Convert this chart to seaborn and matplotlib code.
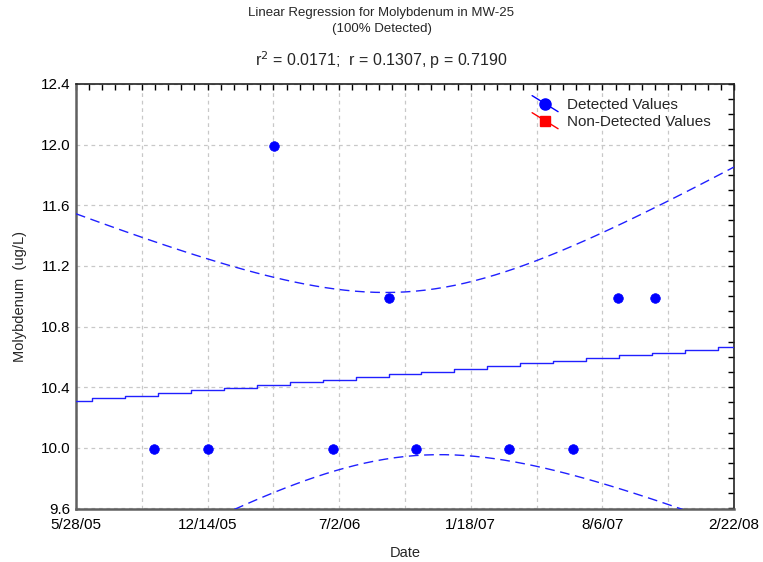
import numpy as np
import pandas as pd
import matplotlib
matplotlib.use("Agg")
import matplotlib.pyplot as plt
import matplotlib.dates as mdates
from matplotlib.ticker import MultipleLocator, FuncFormatter, FixedLocator
from matplotlib.legend_handler import HandlerLine2D
from matplotlib.lines import Line2D
import seaborn as sns

# ---- data ----
sample_dates = ["2005-09-24", "2005-12-14", "2006-03-25", "2006-06-23", "2006-09-16",
                "2006-10-26", "2007-03-17", "2007-06-22", "2007-08-29", "2007-10-25"]
molybdenum = [9.99, 9.99, 11.99, 9.99, 10.99, 9.99, 9.99, 9.99, 10.99, 10.99]
tick_dates = ["2005-05-28", "2005-12-14", "2006-07-02", "2007-01-18", "2007-08-06", "2008-02-22"]
title_lines = ["Linear Regression for Molybdenum in MW-25", "(100% Detected)"]
stats_text = r"r$^2$ = 0.0171;  r = 0.1307, p = 0.7190"
legend_labels = ["Detected Values", "Non-Detected Values"]
t_crit = 2.306  # t(0.975, df=8)

sns.set_theme(style="white")
plt.rcParams["font.family"] = ["Liberation Sans", "DejaVu Sans"]

df = pd.DataFrame({"date": pd.to_datetime(sample_dates), "value": molybdenum})
start = pd.Timestamp(tick_dates[0])
end = pd.Timestamp(tick_dates[-1])
df["days"] = (df["date"] - start).dt.days.astype(float)

# linear regression and 95% confidence band for the mean
x = df["days"].values
y = df["value"].values
n = len(x)
xm, ym = x.mean(), y.mean()
sxx = ((x - xm) ** 2).sum()
slope = ((x - xm) * (y - ym)).sum() / sxx
intercept = ym - slope * xm
resid = y - (intercept + slope * x)
s = np.sqrt((resid ** 2).sum() / (n - 2))

total_days = (end - start).days
grid_line = np.linspace(0, total_days, 21)
grid_band = np.linspace(0, total_days, 67)
fit_line = intercept + slope * grid_line
fit_band = intercept + slope * grid_band
half = t_crit * s * np.sqrt(1.0 / n + (grid_band - xm) ** 2 / sxx)

line_df = pd.DataFrame({"date": start + pd.to_timedelta(grid_line, unit="D"), "fit": fit_line})
band_df = pd.DataFrame({"date": start + pd.to_timedelta(grid_band, unit="D"),
                        "upper": fit_band + half, "lower": fit_band - half})

fig = plt.figure(figsize=(7.63, 5.62), dpi=100)
ax = fig.add_axes([76 / 763, 1 - 508.5 / 562, (734 - 76) / 763, (508.5 - 84) / 562])

blue = "#0000ff"
sns.lineplot(data=line_df, x="date", y="fit", ax=ax, color="#2020ff", lw=1.0,
             drawstyle="steps-mid", estimator=None, zorder=3)
for col in ["upper", "lower"]:
    sns.lineplot(data=band_df, x="date", y=col, ax=ax, color="#2020ff", lw=1.0,
                 linestyle=(0, (7, 4)), estimator=None, zorder=3)
sns.scatterplot(data=df, x="date", y="value", ax=ax, color=blue, s=48,
                edgecolor=blue, linewidth=0.5, zorder=4)

ax.set_xlim(start, end)
ax.set_ylim(9.6, 12.4)

# ticks
ax.yaxis.set_major_locator(MultipleLocator(0.4))
ax.yaxis.set_minor_locator(MultipleLocator(0.1))
ax.yaxis.set_major_formatter(FuncFormatter(lambda v, p: f"{v:.1f}"))

hundred = [mdates.date2num(start + pd.Timedelta(days=d)) for d in range(0, total_days + 1, 100)]
twenty = [mdates.date2num(start + pd.Timedelta(days=d)) for d in range(0, total_days + 1, 20)]
label_nums = [mdates.date2num(pd.Timestamp(t)) for t in tick_dates]
ax.xaxis.set_major_locator(FixedLocator(hundred))
ax.xaxis.set_minor_locator(FixedLocator(twenty))


def date_fmt(v, pos):
    if min(abs(v - ln) for ln in label_nums) > 0.5:
        return ""
    d = mdates.num2date(v)
    return f"{d.month}/{d.day}/{d:%y}"


ax.xaxis.set_major_formatter(FuncFormatter(date_fmt))

ax.tick_params(axis="both", which="both", direction="in", top=True, right=True,
               labelsize=11, colors="black", length=4, width=1, pad=4)
ax.tick_params(axis="x", which="major", pad=7)

ax.grid(True, which="major", color="#c8c8c8", linestyle=(0, (3, 3)), linewidth=0.9)

for side in ["left", "bottom"]:
    ax.spines[side].set_color("#606060")
    ax.spines[side].set_linewidth(1.8)
for side in ["top", "right"]:
    ax.spines[side].set_color("#222222")
    ax.spines[side].set_linewidth(1.2)

ax.set_xlabel("Date", fontsize=10.5, labelpad=10)
ax.set_ylabel("Molybdenum  (ug/L)", fontsize=10.5, labelpad=10)

fig.text(0.5, 1 - 13 / 562, title_lines[0], ha="center", va="center", fontsize=9.5)
fig.text(0.5, 1 - 29 / 562, title_lines[1], ha="center", va="center", fontsize=9.5)
fig.text(0.5, 1 - 60 / 562, stats_text, ha="center", va="center", fontsize=11.5)


# legend with diagonal lines through markers
class DiagHandler(HandlerLine2D):
    def create_artists(self, legend, orig_handle, xdescent, ydescent, width, height, fontsize, trans):
        artists = super().create_artists(legend, orig_handle, xdescent, ydescent, width, height, fontsize, trans)
        a = artists[0]
        yd = np.asarray(a.get_ydata(), dtype=float)
        c = yd[0]
        d = 0.75 * height
        if len(yd) == 3:
            a.set_ydata([c + d, c, c - d])
        elif len(yd) == 2:
            a.set_ydata([c + d, c - d])
        return artists


h1 = Line2D([0], [0], color=blue, marker="o", markersize=8, lw=1.0)
h2 = Line2D([0], [0], color="red", marker="s", markersize=7.5, lw=1.0)
leg = ax.legend([h1, h2], legend_labels, loc="upper right",
                bbox_to_anchor=((711 - 76) / 658, (508.5 - 98) / 424.5),
                borderaxespad=0, borderpad=0,
                frameon=False, fontsize=11, handlelength=1.7, handletextpad=0.6,
                labelspacing=0.2, handler_map={Line2D: DiagHandler()})

fig.savefig("out.png", dpi=100)
